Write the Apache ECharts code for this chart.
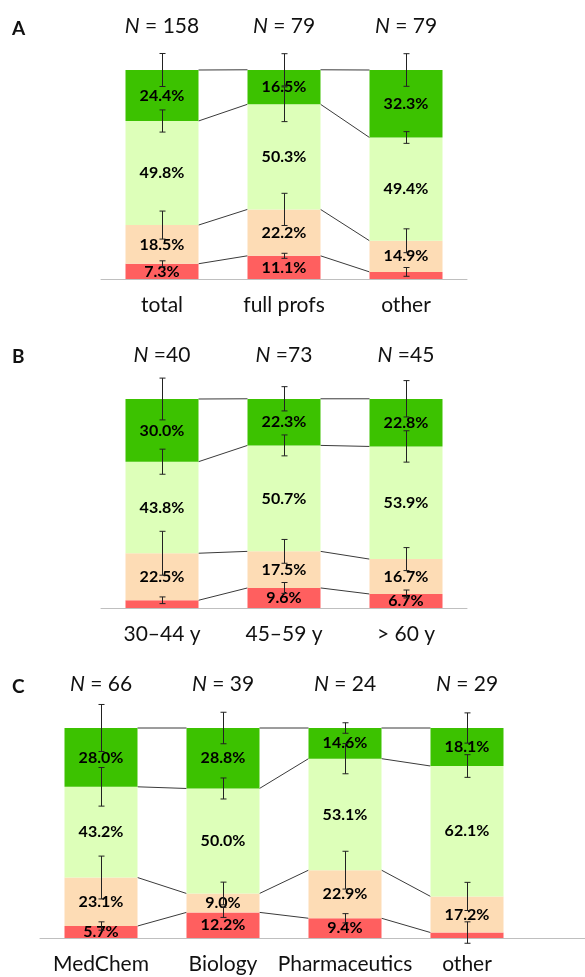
<!DOCTYPE html>
<html>
<head>
<meta charset="utf-8">
<script src="https://cdn.jsdelivr.net/npm/echarts@6/dist/echarts.min.js"></script>
<style>
html, body { margin: 0; padding: 0; background: #fff; }
#chart { width: 585px; height: 977px; }
</style>
</head>
<body>
<div id="chart"></div>
<script>
// A: position
const catsA = ['total', 'full profs', 'other']
const nA = ['N = 158', 'N = 79', 'N = 79']
const redA = [7.3, 11.1, 3.4]
const peachA = [18.5, 22.2, 14.9]
const lightA = [49.8, 50.3, 49.4]
const greenA = [24.4, 16.5, 32.3]
// half error at the top of each segment: red, peach, light, green
const errA = [[1.4, 6.7, 5.3, 7.9], [1.2, 7.7, 8.3, 7.7], [2.1, 5.7, 2.8, 7.8]]

// B: age
const catsB = ['30\u201344 y', '45\u201359 y', '> 60 y']
const nB = ['N =40', 'N =73', 'N =45']
const redB = [3.7, 9.6, 6.7]
const peachB = [22.5, 17.5, 16.7]
const lightB = [43.8, 50.7, 53.9]
const greenB = [30.0, 22.3, 22.8]
const errB = [[1.6, 10.5, 6.0, 10.0], [2.6, 5.7, 5.0, 5.8], [1.9, 5.5, 7.5, 8.7]]

// C: field
const catsC = ['MedChem', 'Biology', 'Pharmaceutics', 'other']
const nC = ['N = 66', 'N = 39', 'N = 24', 'N = 29']
const redC = [5.7, 12.2, 9.4, 2.6]
const peachC = [23.1, 9.0, 22.9, 17.2]
const lightC = [43.2, 50.0, 53.1, 62.1]
const greenC = [28.0, 28.8, 14.6, 18.1]
const errC = [[2.0, 10.2, 9.2, 11.2], [2.4, 5.4, 5.0, 7.5], [2.2, 9.0, 7.2, 2.5], [5.1, 6.7, 5.4, 7.2]]

const colors = ['#ff5f5f', '#fddcb5', '#ddffb9', '#3cc200']
const font = 'Lato, "Open Sans", sans-serif'
const barWidth = 73

const panels = [
    { cats: catsA, n: nA, segs: [redA, peachA, lightA, greenA], err: errA, grid: { left: 101, width: 366, top: 70, height: 209 } },
    { cats: catsB, n: nB, segs: [redB, peachB, lightB, greenB], err: errB, grid: { left: 101, width: 366, top: 399, height: 209 } },
    { cats: catsC, n: nC, segs: [redC, peachC, lightC, greenC], err: errC, grid: { left: 40, width: 488, top: 728, height: 210 } }
]

const grids = [], xAxes = [], yAxes = [], series = []

panels.forEach((p, g) => {
    grids.push(p.grid)
    xAxes.push({
        type: 'category', gridIndex: g, data: p.cats, position: 'bottom',
        axisLine: { lineStyle: { color: '#bfbfbf', width: 1 } },
        axisTick: { show: false },
        axisLabel: { color: '#111', fontFamily: font, fontSize: 21, margin: 16, interval: 0 }
    })
    xAxes.push({
        type: 'category', gridIndex: g, data: p.n, position: 'top',
        axisLine: { show: false }, axisTick: { show: false },
        axisLabel: {
            color: '#111', fontFamily: font, fontSize: 21, margin: 33, interval: 0,
            formatter: v => v.replace(/^N/, '{i|N}'),
            rich: { i: { fontStyle: 'italic', fontFamily: font, fontSize: 21, color: '#111' } }
        }
    })
    yAxes.push({ type: 'value', gridIndex: g, min: 0, max: 100, show: false })

    // stacked segments
    p.segs.forEach((vals, s) => {
        series.push({
            type: 'bar', xAxisIndex: g * 2, yAxisIndex: g, stack: 'p' + g,
            barWidth: barWidth, z: 2, data: vals,
            itemStyle: { color: colors[s] },
            label: {
                show: true, position: 'inside', color: '#000', fontFamily: font,
                fontWeight: 'bold', fontSize: 16,
                formatter: d => d.value >= 5 ? d.value.toFixed(1) + '%' : ''
            }
        })
    })

    // cumulative tops of each segment per category
    const tops = p.cats.map((c, i) => {
        let sum = 0
        return p.segs.map(vals => (sum += vals[i]))
    })

    // connector lines between neighbouring bars
    const links = []
    for (let i = 0; i < p.cats.length - 1; i++) {
        for (let s = 0; s < 4; s++) {
            links.push([i, tops[i][s], tops[i + 1][s]])
        }
    }
    series.push({
        type: 'custom', xAxisIndex: g * 2, yAxisIndex: g, z: 1, clip: false,
        data: links, silent: true,
        renderItem: (params, api) => {
            const i = api.value(0)
            const a = api.coord([i, api.value(1)])
            const b = api.coord([i + 1, api.value(2)])
            return {
                type: 'line',
                shape: { x1: a[0] + barWidth / 2, y1: a[1], x2: b[0] - barWidth / 2, y2: b[1] },
                style: { stroke: '#3a3a3a', lineWidth: 1 }
            }
        }
    })

    // error bars at the top of each segment
    const errs = []
    p.cats.forEach((c, i) => {
        for (let s = 0; s < 4; s++) errs.push([i, tops[i][s], p.err[i][s]])
    })
    series.push({
        type: 'custom', xAxisIndex: g * 2, yAxisIndex: g, z: 5, clip: false,
        data: errs, silent: true,
        renderItem: (params, api) => {
            const i = api.value(0), top = api.value(1), e = api.value(2)
            const hi = api.coord([i, top + e])
            const lo = api.coord([i, top - e])
            const x = Math.round(hi[0]) + 0.5
            const st = { stroke: '#222', lineWidth: 1 }
            return {
                type: 'group',
                children: [
                    { type: 'line', shape: { x1: x, y1: hi[1], x2: x, y2: lo[1] }, style: st },
                    { type: 'line', shape: { x1: x - 3, y1: hi[1], x2: x + 3, y2: hi[1] }, style: st },
                    { type: 'line', shape: { x1: x - 3, y1: lo[1], x2: x + 3, y2: lo[1] }, style: st }
                ]
            }
        }
    })
})

const chart = echarts.init(document.getElementById('chart'))
chart.setOption({
    animation: false,
    title: ['A', 'B', 'C'].map((t, k) => ({
        text: t, left: 7, top: [14, 342, 672][k],
        textStyle: { fontFamily: font, fontWeight: 'bold', fontSize: 19, color: '#111' }
    })),
    grid: grids,
    xAxis: xAxes,
    yAxis: yAxes,
    series: series,
    graphic: [{
        // baseline of panel C runs on to the right edge
        type: 'line', shape: { x1: 528, y1: 938.5, x2: 585, y2: 938.5 },
        style: { stroke: '#bfbfbf', lineWidth: 1 }
    }]
})
</script>
</body>
</html>
